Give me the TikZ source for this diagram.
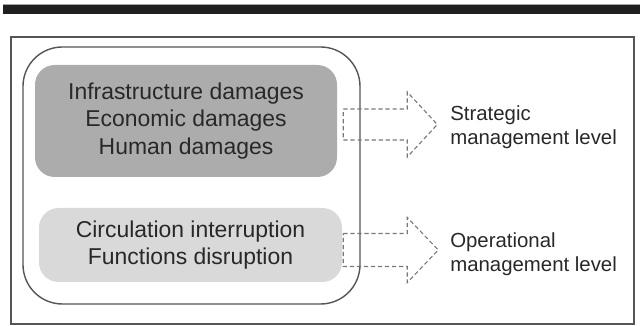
\documentclass[tikz,border=0pt]{standalone}
\usepackage{fontspec}
\setmainfont{Liberation Sans}
\usetikzlibrary{positioning,calc}
\definecolor{darkbox}{RGB}{172,172,172}
\definecolor{lightbox}{RGB}{217,217,217}
\definecolor{textgray}{RGB}{40,40,40}
\definecolor{framegray}{RGB}{85,85,85}
\definecolor{arrowgray}{RGB}{120,120,120}

\tikzset{
    damagebox/.style={rectangle,rounded corners=14pt,inner sep=0pt,text=textgray,
        align=center,font=\fontsize{16.3}{19.8}\selectfont},
    levellabel/.style={anchor=west,inner sep=0pt,text=textgray,align=left,
        font=\fontsize{14.5}{17}\selectfont},
    blockarrow/.style={draw=arrowgray,dashed,line width=0.8pt,dash pattern=on 3pt off 2pt}
}

\begin{document}
\begin{tikzpicture}[x=0.025cm,y=-0.025cm]
    \useasboundingbox (0,0) rectangle (640,326);

    % Header bar
    \fill[black!88] (3,4) rectangle (640,14);
    \draw[black!35,line width=0.6pt] (3,4) -- (640,4);

    % Outer frame
    \draw[framegray,line width=1.2pt] (11,37) rectangle (634,324);

    % Event consequences
    \node[rectangle,draw=framegray,line width=1pt,rounded corners=28pt,
        minimum width=337*0.025cm,minimum height=257*0.025cm] (event) at (191.5,175.5) {};

    % Damages
    \node[damagebox,fill=darkbox,minimum width=302*0.025cm,minimum height=112*0.025cm]
        (damages) at (186,121) {Infrastructure damages\\Economic damages\\Human damages};

    % Disruptions
    \node[damagebox,fill=lightbox,minimum width=303*0.025cm,minimum height=74*0.025cm]
        (disrupt) at (190.5,245) {Circulation interruption\\Functions disruption};

    % Management levels
    \node[levellabel] (strategic) at (450,127) {Strategic\\management level};
    \node[levellabel] (operational) at (450,254) {Operational\\management level};

    % Block arrows
    \draw[blockarrow] ($(damages.east)+(6,-12)$) -- ++(64,0) -- ++(0,-17) -- ++(30,32.5)
        -- ++(-30,32.5) -- ++(0,-17) -- ++(-64,0) -- cycle;
    \draw[blockarrow] ($(disrupt.east)+(1,-11.5)$) -- ++(64,0) -- ++(0,-16) -- ++(31,32.5)
        -- ++(-31,32.5) -- ++(0,-16) -- ++(-64,0) -- cycle;
\end{tikzpicture}
\end{document}
